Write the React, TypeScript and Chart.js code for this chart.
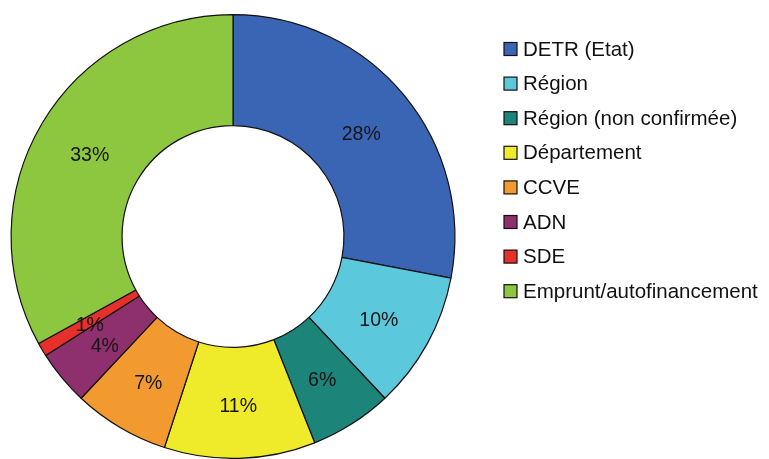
import React, { useEffect, useRef } from "react";
import { Chart, registerables } from "chart.js";

Chart.register(...registerables);

const categories = [
  "DETR (Etat)",
  "Région",
  "Région (non confirmée)",
  "Département",
  "CCVE",
  "ADN",
  "SDE",
  "Emprunt/autofinancement",
];
const values = [28, 10, 6, 11, 7, 4, 1, 33];
const percentLabels = ["28%", "10%", "6%", "11%", "7%", "4%", "1%", "33%"];
const colors = [
  "#3A65B5",
  "#5BC8DC",
  "#1D8479",
  "#EFEA2A",
  "#F29A30",
  "#8E2F6E",
  "#E8302B",
  "#8DC63F",
];

const FONT = "'Liberation Sans', Arial, Helvetica, sans-serif";

const labelPlugin = {
  id: "sliceLabels",
  afterDatasetsDraw(chart: any) {
    const ctx = chart.ctx;
    const meta = chart.getDatasetMeta(0);
    ctx.save();
    ctx.font = `19.5px ${FONT}`;
    ctx.fillStyle = "#151515";
    ctx.textAlign = "center";
    ctx.textBaseline = "middle";
    meta.data.forEach((arc: any, i: number) => {
      const { x, y, startAngle, endAngle, innerRadius, outerRadius } = arc.getProps(
        ["x", "y", "startAngle", "endAngle", "innerRadius", "outerRadius"],
        true
      );
      const mid = (startAngle + endAngle) / 2;
      const r = (innerRadius + outerRadius) / 2;
      ctx.fillText(percentLabels[i], x + Math.cos(mid) * r, y + Math.sin(mid) * r + 4);
    });
    ctx.restore();
  },
};

const legendPlugin = {
  id: "sideLegend",
  afterDraw(chart: any) {
    const ctx = chart.ctx;
    ctx.save();
    ctx.font = `20.5px ${FONT}`;
    ctx.textAlign = "left";
    ctx.textBaseline = "middle";
    categories.forEach((name, i) => {
      const cy = 49 + i * 34.6;
      ctx.fillStyle = colors[i];
      ctx.fillRect(504, cy - 6.5, 13, 13);
      ctx.strokeStyle = "#111";
      ctx.lineWidth = 1.2;
      ctx.strokeRect(504, cy - 6.5, 13, 13);
      ctx.fillStyle = "#111";
      ctx.fillText(name, 523, cy + 1);
    });
    ctx.restore();
  },
};

export default function App() {
  const ref = useRef<HTMLCanvasElement>(null);

  useEffect(() => {
    document.body.style.margin = "0";
    const canvas = ref.current;
    if (!canvas) return;
    const chart = new Chart(canvas, {
      type: "doughnut",
      data: {
        labels: categories,
        datasets: [
          {
            data: values,
            backgroundColor: colors,
            borderColor: "#111",
            borderWidth: 1.2,
          },
        ],
      },
      options: {
        animation: false,
        responsive: false,
        maintainAspectRatio: false,
        cutout: "50%",
        layout: { padding: { left: 9, right: 312, top: 14, bottom: 0 } },
        plugins: {
          legend: { display: false },
          tooltip: { enabled: false },
        },
      },
      plugins: [labelPlugin, legendPlugin],
    });
    return () => chart.destroy();
  }, []);

  return (
    <div style={{ width: 769, height: 459, background: "#fff" }}>
      <canvas ref={ref} width={769} height={459} style={{ display: "block" }} />
    </div>
  );
}
